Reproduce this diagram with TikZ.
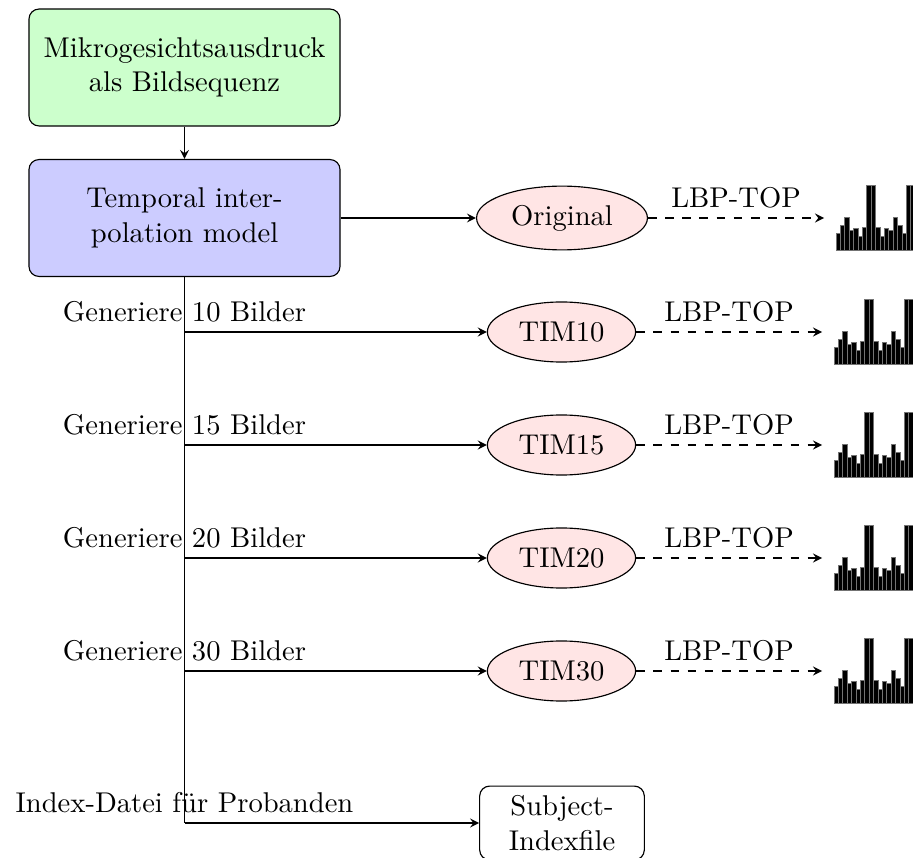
\documentclass[tikz,border=0pt]{standalone}
\usetikzlibrary{shapes.geometric,arrows}
\begin{document}
\begin{tikzpicture}[x=0.3498pt,y=-0.3498pt,
  bigbox/.style={rectangle,rounded corners=3.5pt,draw,align=center,minimum width=108.8pt,minimum height=40.9pt},
  oval/.style={ellipse,draw,fill=red!10,minimum height=21pt},
  histnode/.style={rectangle,anchor=west,inner sep=0pt,minimum width=33pt,minimum height=22.7pt},
  arr/.style={-stealth},
  darr/.style={-stealth,dashed},
  idxbox/.style={rectangle,rounded corners=3.5pt,draw,fill=white,align=center,minimum width=57.6pt}]
\useasboundingbox (0,0) rectangle (913,858);
\clip (0,0) rectangle (913,858);
\newcommand{\myhist}[1]{%
  \begin{scope}[shift={(#1.west)}]
    \foreach \hh [count=\i] in {16.7,24.7,33,19.7,22.3,14,23,65,65,23,14,22.3,19.7,33,24.7,16.7,65,65,23,14}
      \filldraw[fill=black,draw=black!55,line width=0.25pt] (12+4.4*\i-4.4,32.5) rectangle ++(4.4,-\hh);
  \end{scope}}
% boxes
\node[bigbox,fill=green!20] (seq) at (184.5,67.5) {Mikrogesichtsausdruck\\als Bildsequenz};
\node[bigbox,fill=blue!20] (tim) at (184.5,218) {Temporal inter-\\polation model};
\draw[arr] (seq) -- (tim);
% ellipses
\node[oval] (orig) at (562,218) {Original};
\node[oval] (t10) at (561.5,332) {TIM10};
\node[oval] (t15) at (561.5,445) {TIM15};
\node[oval] (t20) at (561.5,558) {TIM20};
\node[oval] (t30) at (561.5,671) {TIM30};
\node[idxbox] (idx) at (562,823) {Subject-\\Indexfile};
% histograms
\node[histnode] (h0) at (824,218) {};
\node[histnode] (h1) at (822,332) {};
\node[histnode] (h2) at (822,445) {};
\node[histnode] (h3) at (822,558) {};
\node[histnode] (h4) at (822,671) {};
\myhist{h0}\myhist{h1}\myhist{h2}\myhist{h3}\myhist{h4}
% connectors
\draw[arr] (tim) -- (orig);
\coordinate (vend) at (184.5,823);
\coordinate (b1) at (184.5,332);
\coordinate (b2) at (184.5,445);
\coordinate (b3) at (184.5,558);
\coordinate (b4) at (184.5,671);
\draw (tim) -- (vend);
\draw[arr] (b1) -- node[above,pos=0]{Generiere 10 Bilder} (t10);
\draw[arr] (b2) -- node[above,pos=0]{Generiere 15 Bilder} (t15);
\draw[arr] (b3) -- node[above,pos=0]{Generiere 20 Bilder} (t20);
\draw[arr] (b4) -- node[above,pos=0]{Generiere 30 Bilder} (t30);
\draw[arr] (vend) -- node[above,pos=0]{Index-Datei f\"ur Probanden} (idx);
\draw[darr] (orig) -- node[above]{LBP-TOP} (h0);
\draw[darr] (t10) -- node[above]{LBP-TOP} (h1);
\draw[darr] (t15) -- node[above]{LBP-TOP} (h2);
\draw[darr] (t20) -- node[above]{LBP-TOP} (h3);
\draw[darr] (t30) -- node[above]{LBP-TOP} (h4);
\end{tikzpicture}
\end{document}
